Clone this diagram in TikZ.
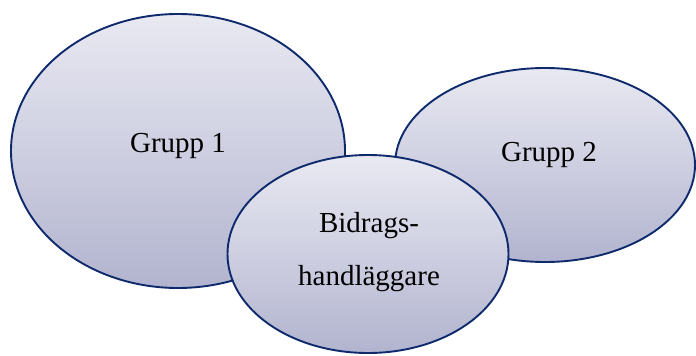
\documentclass[tikz,border=0pt]{standalone}
\usepackage{fontspec}
\setmainfont{Liberation Serif}
\usetikzlibrary{shapes.geometric}

\definecolor{rimblue}{HTML}{0E2A6C}
\definecolor{shadetop}{HTML}{E9E9F2}
\definecolor{shadebot}{HTML}{B2B4CF}

\tikzset{
    bubble/.style={ellipse,draw=rimblue,line width=1.9pt,inner sep=0pt,
        top color=shadetop,bottom color=shadebot},
    word/.style={anchor=base,font=\fontsize{29}{34}\selectfont}
}

\begin{document}
\begin{tikzpicture}[x=1pt,y=-1pt]
    \useasboundingbox (0,0) rectangle (696,356);

    % the three groups, the middle one drawn last so it lies on top
    \node[bubble,minimum width=334pt,minimum height=274pt] (g1) at (178,151) {};
    \node[bubble,minimum width=300pt,minimum height=194pt] (g2) at (545,165) {};
    \node[bubble,minimum width=281pt,minimum height=198pt] (bh) at (368,254) {};

    \node[word] (t1) at (178,152) {Grupp 1};
    \node[word] (t2) at (549,161) {Grupp 2};
    \node[word] (t3) at (369,232) {Bidrags-};
    \node[word] (t4) at (369,285) {handläggare};
\end{tikzpicture}
\end{document}
